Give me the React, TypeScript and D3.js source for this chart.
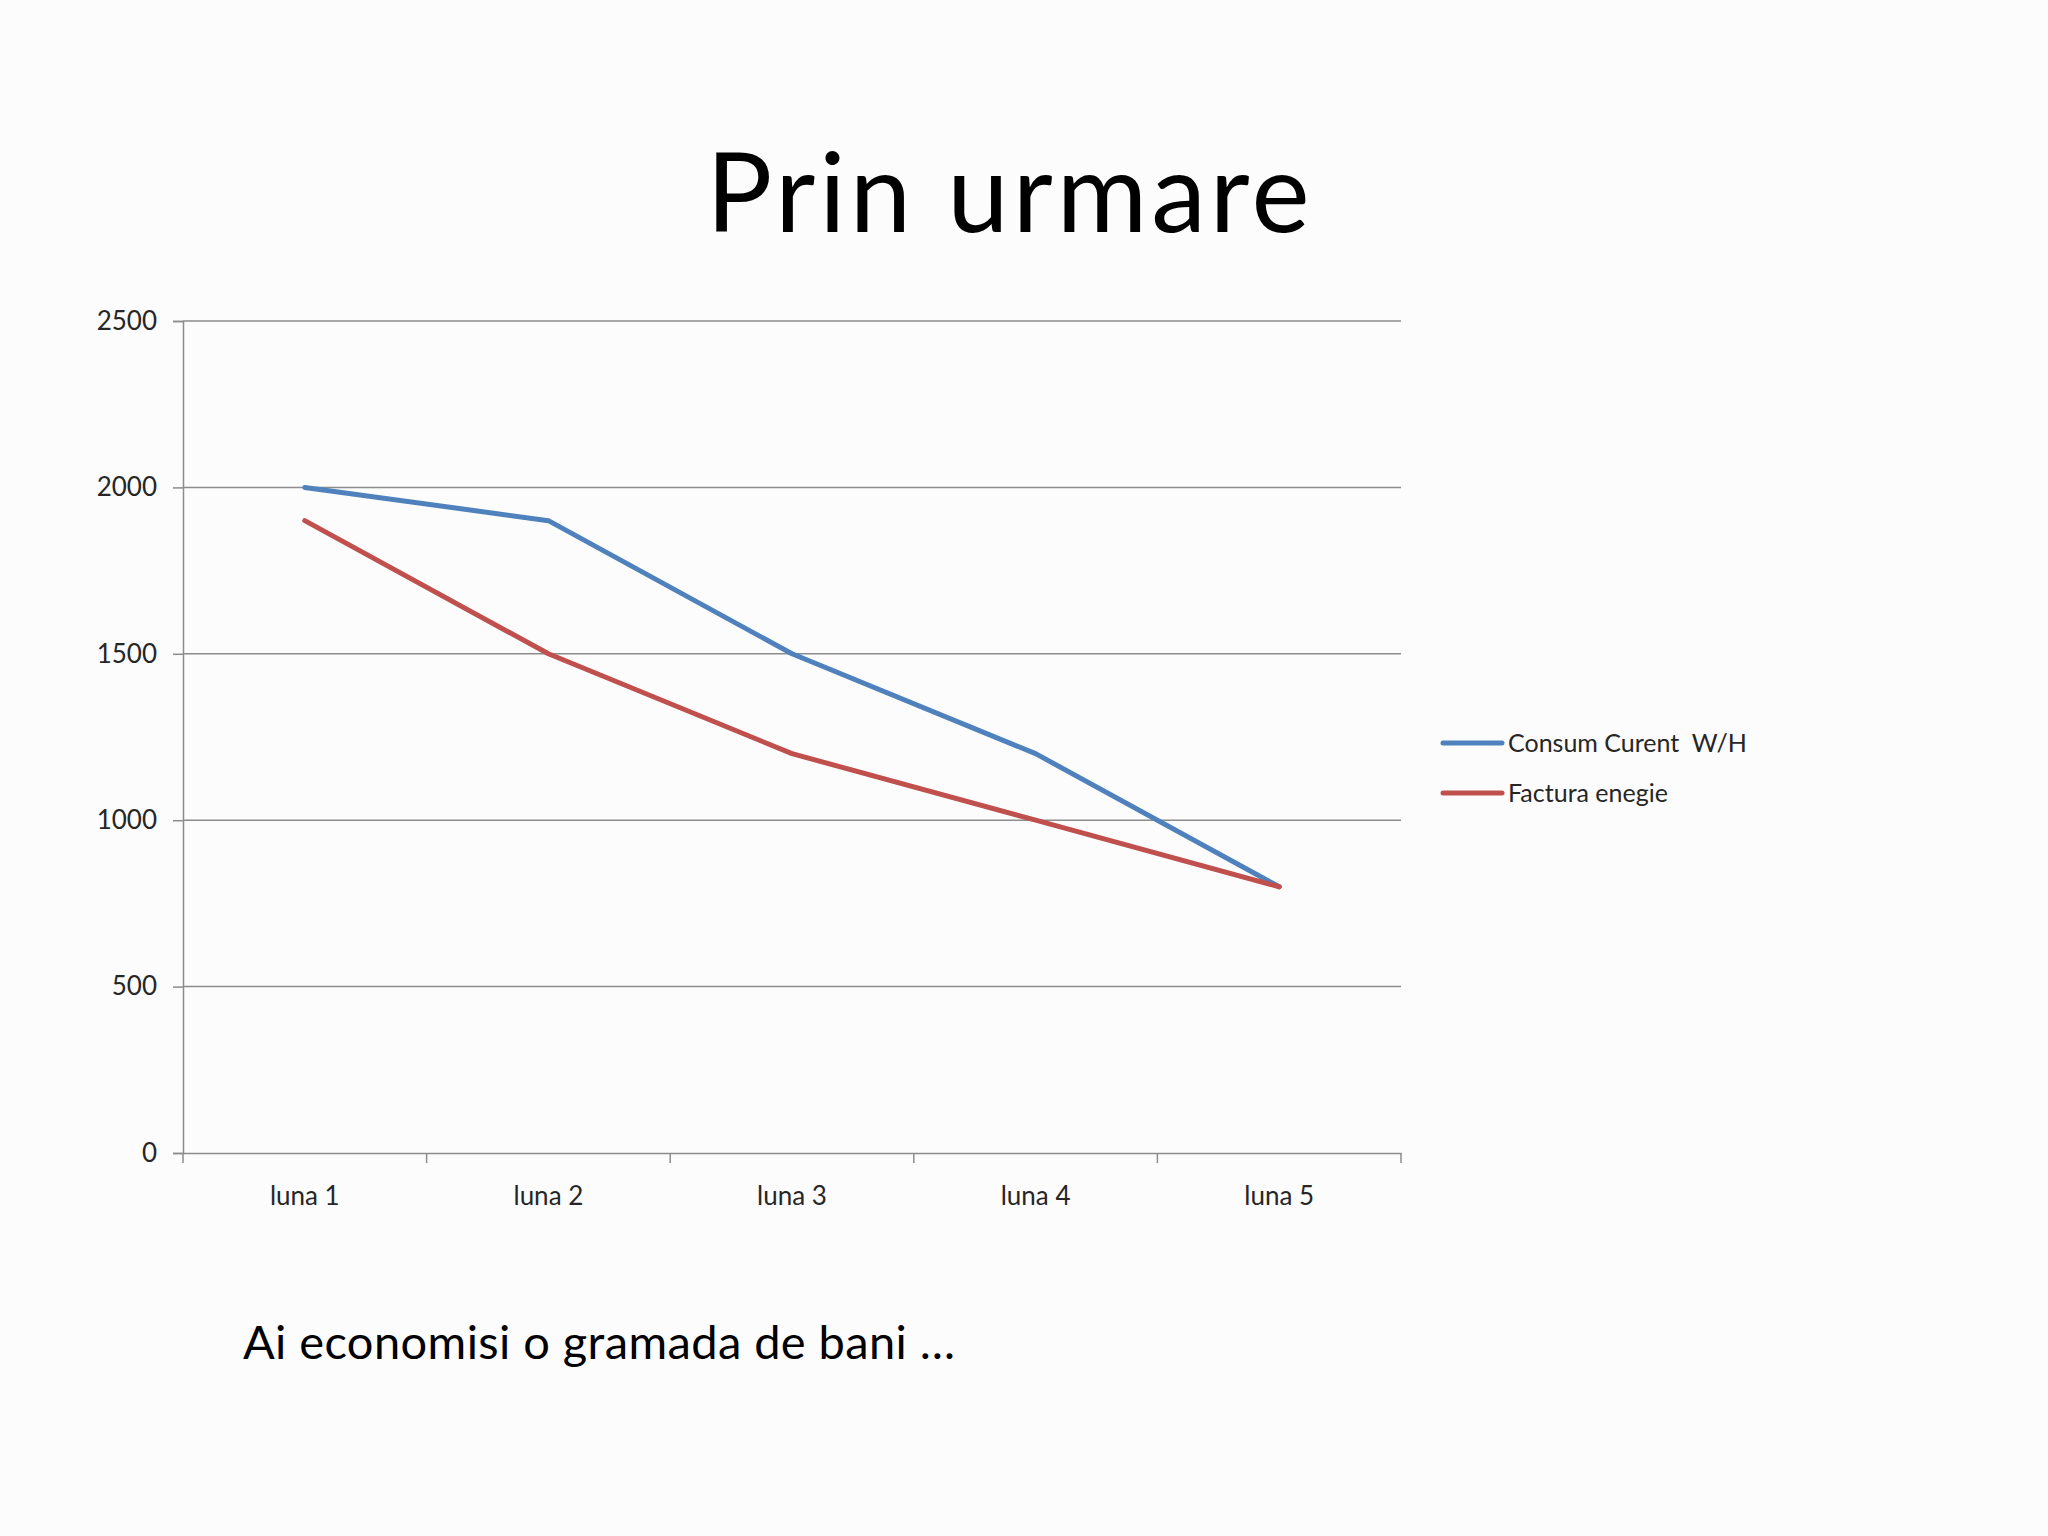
import React, { useEffect, useRef } from 'react';
import * as d3 from 'd3';

const months = ['luna 1', 'luna 2', 'luna 3', 'luna 4', 'luna 5'];
const consumValues = [2000, 1900, 1500, 1200, 800];
const facturaValues = [1900, 1500, 1200, 1000, 800];
const yTicks = [0, 500, 1000, 1500, 2000, 2500];
const seriesNames = ['Consum Curent  W/H', 'Factura enegie'];
const seriesColors = ['#4f81bd', '#c0504d'];

const FONT = 'Lato, "Open Sans", sans-serif';

const App = () => {
  const svgRef = useRef<SVGSVGElement>(null);

  useEffect(() => {
    const W = 2048, H = 1536;
    const margin = { top: 321, left: 183, right: 647, bottom: 383 };
    const width = W - margin.left - margin.right,
          height = H - margin.top - margin.bottom;

    const root = d3.select(svgRef.current);
    root.selectAll('*').remove();
    root.attr('width', W).attr('height', H);

    root.append('rect').attr('width', W).attr('height', H).attr('fill', '#fdfcfd');

    root.append('text')
        .attr('x', 1010)
        .attr('y', 232)
        .attr('text-anchor', 'middle')
        .attr('font-family', FONT)
        .attr('font-size', 110)
        .attr('letter-spacing', 4)
        .attr('fill', '#000')
        .text('Prin urmare');

    root.append('text')
        .attr('x', 243)
        .attr('y', 1359)
        .attr('font-family', FONT)
        .attr('font-size', 47)
        .attr('letter-spacing', 0.4)
        .attr('fill', '#000')
        .text('Ai economisi o gramada de bani …');

    const svg = root.append('g')
                    .attr('transform', `translate(${margin.left},${margin.top})`);

    const x = d3.scaleBand().domain(months).range([0, width]);
    const y = d3.scaleLinear().domain([0, 2500]).range([height, 0]);

    // gridlines
    svg.append('g')
       .selectAll('line')
       .data(yTicks.filter(t => t > 0))
       .enter()
       .append('line')
       .attr('x1', 0)
       .attr('x2', width)
       .attr('y1', d => y(d))
       .attr('y2', d => y(d))
       .attr('stroke', '#8c8c8c')
       .attr('stroke-width', 1.5);

    const yAxis = svg.append('g')
       .call(d3.axisLeft(y).tickValues(yTicks).tickFormat(d3.format('d')).tickSize(10).tickPadding(16));
    yAxis.select('.domain').attr('stroke', '#8c8c8c').attr('stroke-width', 1.5);
    yAxis.selectAll('.tick line').attr('stroke', '#8c8c8c').attr('stroke-width', 1.5);
    yAxis.selectAll('.tick text')
         .attr('font-family', FONT)
         .attr('font-size', 26)
         .attr('fill', '#262626');

    const xAxis = svg.append('g')
       .attr('transform', `translate(0,${height})`)
       .call(d3.axisBottom(x).tickSize(0).tickPadding(34));
    xAxis.select('.domain').attr('stroke', '#8c8c8c').attr('stroke-width', 1.5);
    xAxis.selectAll('.tick text')
         .attr('font-family', FONT)
         .attr('font-size', 26)
         .attr('fill', '#262626');

    // category boundary ticks
    const bounds = months.map(m => x(m) as number).concat([width]);
    svg.append('g')
       .selectAll('line')
       .data(bounds)
       .enter()
       .append('line')
       .attr('x1', d => d)
       .attr('x2', d => d)
       .attr('y1', height)
       .attr('y2', height + 10)
       .attr('stroke', '#8c8c8c')
       .attr('stroke-width', 1.5);

    const line = d3.line<number>()
                   .x((_, i) => (x(months[i]) as number) + x.bandwidth() / 2)
                   .y(d => y(d));

    [consumValues, facturaValues].forEach((vals, i) => {
      svg.append('path')
         .datum(vals)
         .attr('d', line)
         .attr('fill', 'none')
         .attr('stroke', seriesColors[i])
         .attr('stroke-width', 5)
         .attr('stroke-linecap', 'round')
         .attr('stroke-linejoin', 'round');
    });

    const legend = root.append('g').attr('transform', 'translate(1443,743)');
    seriesNames.forEach((name, i) => {
      const g = legend.append('g').attr('transform', `translate(0,${i * 50})`);
      g.append('line')
       .attr('x1', 0).attr('x2', 59)
       .attr('stroke', seriesColors[i])
       .attr('stroke-width', 5)
       .attr('stroke-linecap', 'round');
      g.append('text')
       .attr('x', 65)
       .attr('dy', '0.35em')
       .attr('font-family', FONT)
       .attr('font-size', 25)
       .attr('fill', '#262626')
       .style('white-space', 'pre')
       .text(name);
    });
  }, []);

  return (
    <div>
      <svg ref={svgRef} style={{ position: 'absolute', left: 0, top: 0 }}></svg>
    </div>
  );
};

export default App;
